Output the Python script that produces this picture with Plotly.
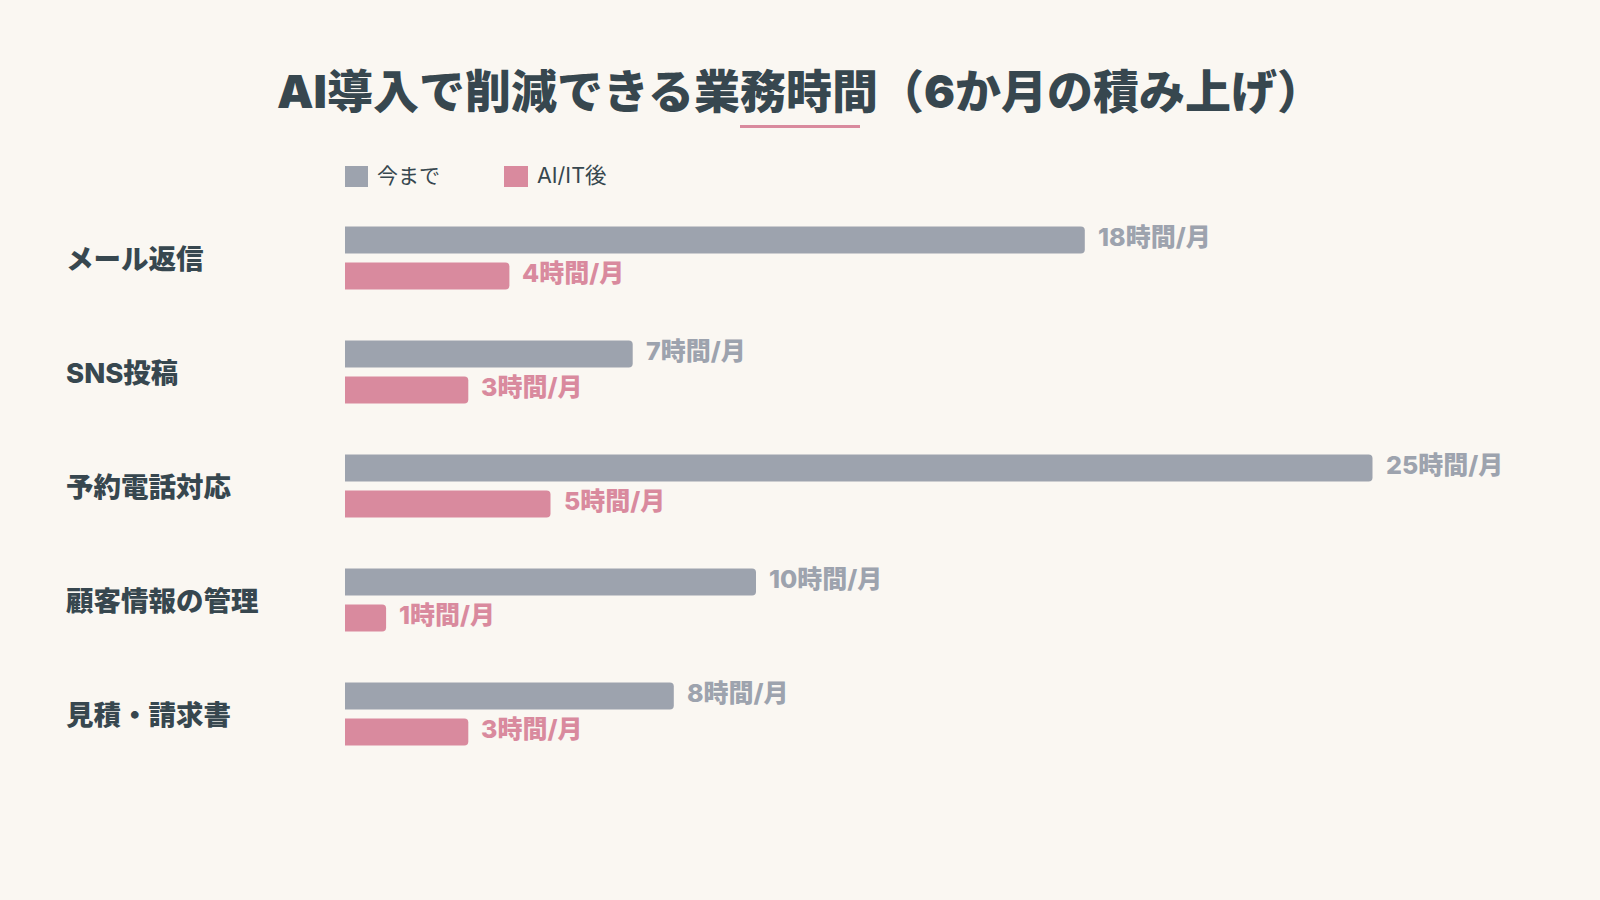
import plotly.graph_objects as go

categories = ["メール返信", "SNS投稿", "予約電話対応", "顧客情報の管理", "見積・請求書"]
before_hours = [18, 7, 25, 10, 8]
after_hours = [4, 3, 5, 1, 3]
series_names = ["今まで", "AI/IT後"]
unit_label = "時間/月"
title_text = "AI導入で削減できる業務時間（6か月の積み上げ）"

BG = "#FAF7F2"
GRAY = "#9DA3AE"
PINK = "#D98A9E"
DARK = "#37474F"
FONT = "Inter, 'Noto Sans CJK JP', sans-serif"

W_PX, H_PX = 1600, 900
L, R, T, B = 345, 22, 201, 129
PW = W_PX - L - R
PH = H_PX - T - B


def px_x(p):
    return (p - L) / PW


def px_y(p):
    return (H_PX - B - p) / PH


fig = go.Figure()
fig.add_trace(go.Bar(
    y=categories, x=before_hours, orientation="h", name=series_names[0],
    marker=dict(color=GRAY, line=dict(width=0)), showlegend=False,
    hoverinfo="skip",
))
fig.add_trace(go.Bar(
    y=categories, x=after_hours, orientation="h", name=series_names[1],
    marker=dict(color=PINK, line=dict(width=0)), showlegend=False,
    hoverinfo="skip",
))

annotations = []
# category labels (left-aligned)
for c in categories:
    annotations.append(dict(
        x=px_x(64), xref="paper", y=c, yref="y", text=c, showarrow=False,
        xanchor="left", yanchor="middle", yshift=-1,
        font=dict(family=FONT, size=27.5, color=DARK, weight=800),
    ))
# value labels
for c, v in zip(categories, before_hours):
    annotations.append(dict(
        x=v, y=c, xref="x", yref="y", text=f"{v}{unit_label}", showarrow=False,
        xanchor="left", yanchor="middle", xshift=11, yshift=21,
        font=dict(family=FONT, size=25, color=GRAY, weight=800),
    ))
for c, v in zip(categories, after_hours):
    annotations.append(dict(
        x=v, y=c, xref="x", yref="y", text=f"{v}{unit_label}", showarrow=False,
        xanchor="left", yanchor="middle", xshift=11, yshift=-15,
        font=dict(family=FONT, size=25, color=PINK, weight=800),
    ))
# legend texts
annotations.append(dict(
    x=px_x(375), y=px_y(175), xref="paper", yref="paper", text=series_names[0],
    showarrow=False, xanchor="left", yanchor="middle",
    font=dict(family=FONT, size=21, color=DARK),
))
annotations.append(dict(
    x=px_x(535), y=px_y(175), xref="paper", yref="paper", text=series_names[1],
    showarrow=False, xanchor="left", yanchor="middle",
    font=dict(family=FONT, size=21.5, color=DARK),
))

shapes = [
    # title underline
    dict(type="rect", xref="paper", yref="paper",
         x0=px_x(740), x1=px_x(860), y0=px_y(128), y1=px_y(125),
         fillcolor=PINK, line=dict(width=0)),
    # legend squares
    dict(type="rect", xref="paper", yref="paper",
         x0=px_x(345), x1=px_x(368), y0=px_y(187), y1=px_y(166),
         fillcolor=GRAY, line=dict(width=0)),
    dict(type="rect", xref="paper", yref="paper",
         x0=px_x(504), x1=px_x(528), y0=px_y(187), y1=px_y(166),
         fillcolor=PINK, line=dict(width=0)),
]

fig.update_layout(
    width=W_PX, height=H_PX,
    paper_bgcolor=BG, plot_bgcolor=BG,
    margin=dict(l=L, r=R, t=T, b=B),
    barmode="group", bargap=0.367, bargroupgap=0.25, barcornerradius=4,
    title=dict(
        text=title_text, x=0.5, xanchor="center", xref="container",
        y=1 - 92 / H_PX, yref="container", yanchor="middle",
        font=dict(family=FONT, size=46, color=DARK, weight=900),
    ),
    xaxis=dict(range=[0, 30], visible=False, fixedrange=True),
    yaxis=dict(autorange="reversed", showticklabels=False, showgrid=False,
               zeroline=False, showline=False, ticks="", fixedrange=True),
    annotations=annotations,
    shapes=shapes,
    showlegend=False,
    hovermode=False,
    font=dict(family=FONT),
)

fig.write_html(
    "out.html",
    config={"displayModeBar": False},
    post_script="document.body.style.margin='0';document.body.style.background='%s';" % BG,
)
